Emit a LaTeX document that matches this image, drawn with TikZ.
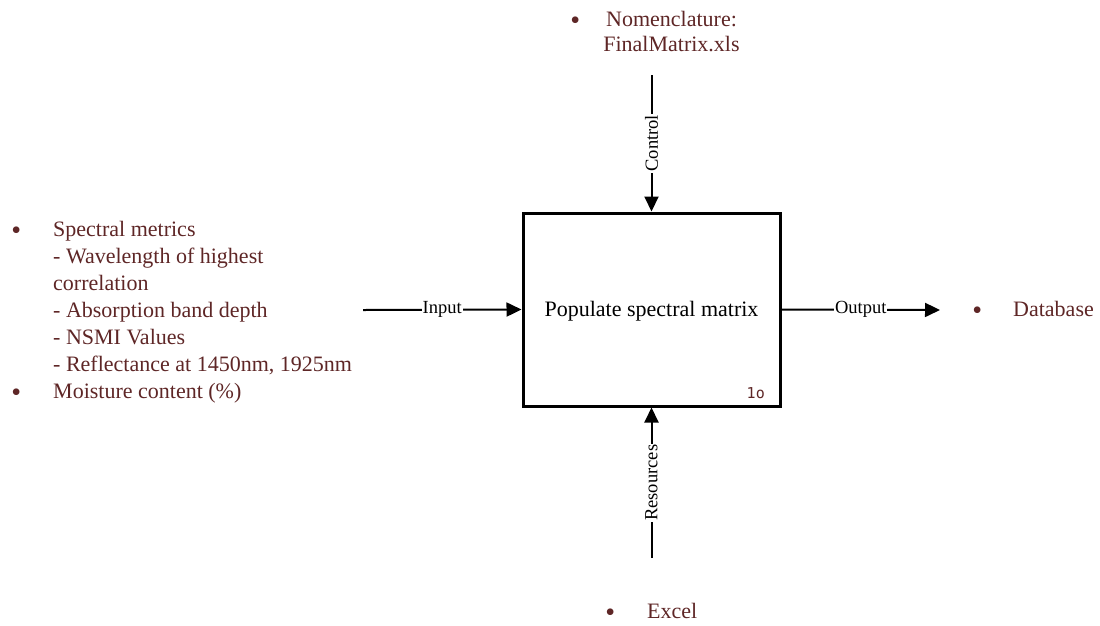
\documentclass[tikz,border=0pt]{standalone}
\usepackage{fontspec}
\setmainfont{Liberation Serif}
\newfontfamily\monofont{DejaVu Sans Mono}
\usetikzlibrary{arrows.meta}
\definecolor{itemtext}{RGB}{94,38,38}
% bullet hung to the left of a list line
\newcommand\itembullet[1]{\llap{\raisebox{-3pt}{\fontsize{28}{28}\selectfont\textbullet}\hspace{#1}}}
\begin{document}
\begin{tikzpicture}[x=1pt,y=-1pt,
  conn/.style={line width=2pt,-{Triangle[length=15pt,width=14pt]}},
  lbl/.style={fill=white,inner sep=1pt,font=\fontsize{18.5}{22}\selectfont},
  item/.style={text=itemtext,inner sep=0pt,font=\fontsize{22}{27}\selectfont},
  proc/.style={draw,line width=3pt,minimum width=257pt,minimum height=193pt,inner sep=0pt}]
\useasboundingbox (0,0) rectangle (1100,625);

% activity box
\node[proc] (box) at (651.5,309.5) {};
\node[anchor=base,inner sep=0pt,font=\fontsize{22}{27}\selectfont] (title) at (651.5,316) {Populate spectral matrix};
\node[anchor=base east,text=itemtext,inner sep=0pt,font=\monofont\fontsize{15}{18}\selectfont] (num) at (765,398) {1o};

% inputs
\node[item,anchor=base west] (inputs) at (53,236) {\begin{tabular}[t]{@{}l@{}}
\itembullet{32pt}Spectral metrics\\
- Wavelength of highest\\
correlation\\
- Absorption band depth\\
- NSMI Values\\
- Reflectance at 1450nm, 1925nm\\
\itembullet{32pt}Moisture content (\%)
\end{tabular}};

% control
\node[item,anchor=base] (controls) at (671.5,26.7) {\fontsize{22}{25}\selectfont\begin{tabular}[t]{@{}c@{}}
\itembullet{26pt}Nomenclature:\\
FinalMatrix.xls
\end{tabular}};

% output
\node[item,anchor=base west] (outputs) at (1013,316) {\itembullet{31pt}Database};

% resources
\node[item,anchor=base west] (resources) at (647,618) {\itembullet{32pt}Excel};

% connector ends
\coordinate (inStart) at (363,310);
\coordinate (outEnd) at (940,310);
\coordinate (ctlStart) at (651.5,75);
\coordinate (resStart) at (651.5,558);

\draw[conn] (inStart) -- node[lbl] {Input} (box.west);
\draw[conn] (box.east) -- node[lbl] {Output} (outEnd);
\draw[conn] (ctlStart) -- node[lbl,rotate=90] {Control} (box.north);
\draw[conn] (resStart) -- node[lbl,rotate=90] {Resources} (box.south);
\end{tikzpicture}
\end{document}
